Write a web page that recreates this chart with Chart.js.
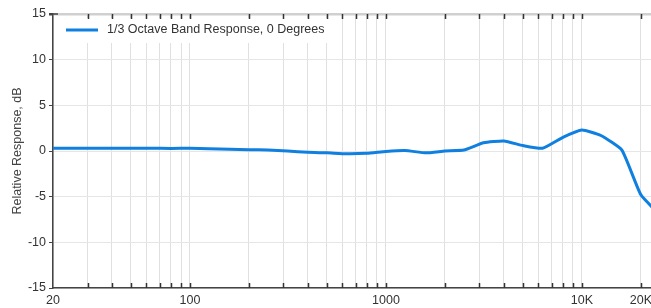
<!DOCTYPE html>
<html>
<head>
<meta charset="utf-8">
<script src="https://cdn.jsdelivr.net/npm/chart.js@4"></script>
<style>
  html, body { margin: 0; padding: 0; background: #fff; overflow: hidden; }
  #wrap { width: 657px; height: 308px; position: relative; }
</style>
</head>
<body>
<div id="wrap"><canvas id="responseChart"></canvas></div>
<script>
// 1/3 octave band centre frequencies (Hz)
const frequencies = [20, 25, 31.5, 40, 50, 63, 80, 100, 125, 160, 200, 250, 315, 400, 500, 630, 800,
  1000, 1250, 1600, 2000, 2500, 3150, 4000, 5000, 6300, 8000, 10000, 12500, 16000, 20000, 25000];
// relative response, dB
const responseDb = [0.3, 0.3, 0.3, 0.3, 0.3, 0.3, 0.28, 0.3, 0.25, 0.2, 0.15, 0.1, 0.0, -0.15, -0.2, -0.3, -0.25,
  -0.05, 0.05, -0.2, 0.0, 0.1, 0.9, 1.1, 0.6, 0.3, 1.5, 2.3, 1.7, 0.1, -4.8, -7.0];
const seriesLabel = "1/3 Octave Band Response, 0 Degrees";

const xGridTicks = [20, 30, 40, 50, 60, 70, 80, 90, 100, 200, 300, 400, 500, 600, 700, 800, 900,
  1000, 2000, 3000, 4000, 5000, 6000, 7000, 8000, 9000, 10000, 20000];
const xTickLabels = { 20: "20", 100: "100", 1000: "1000", 10000: "10K", 20000: "20K" };
const yTicks = [-15, -10, -5, 0, 5, 10, 15];

const lineColor = "#0f7fe0";
const fontFamily = "'Liberation Sans', Arial, sans-serif";

// legend box drawn inside the plot, on white, before the line
const insideLegend = {
  id: "insideLegend",
  beforeDatasetsDraw(chart) {
    const ctx = chart.ctx;
    const a = chart.chartArea;
    ctx.save();
    ctx.fillStyle = "#fff";
    ctx.fillRect(a.left + 4, a.top + 4, 278, 25);
    ctx.strokeStyle = lineColor;
    ctx.lineWidth = 3;
    ctx.beginPath();
    ctx.moveTo(a.left + 13, a.top + 16);
    ctx.lineTo(a.left + 45, a.top + 16);
    ctx.stroke();
    ctx.fillStyle = "#333";
    ctx.font = "12.5px " + fontFamily;
    ctx.textBaseline = "middle";
    ctx.fillText(seriesLabel, a.left + 54, a.top + 16);
    ctx.restore();
  }
};

// inward tick marks on top and bottom edges
const innerTicks = {
  id: "innerTicks",
  afterDraw(chart) {
    const ctx = chart.ctx;
    const a = chart.chartArea;
    const x = chart.scales.x;
    ctx.save();
    ctx.strokeStyle = "#333";
    ctx.lineWidth = 1.5;
    ctx.beginPath();
    xGridTicks.forEach(v => {
      const px = Math.round(x.getPixelForValue(v)) + 0.5;
      if (v === 20) return;
      ctx.moveTo(px, a.top);
      ctx.lineTo(px, a.top + 5);
      ctx.moveTo(px, a.bottom);
      ctx.lineTo(px, a.bottom - 5);
    });
    ctx.stroke();
    ctx.strokeStyle = "#444";
    ctx.beginPath();
    ctx.moveTo(a.left, a.top);
    ctx.lineTo(a.left + 5, a.top);
    ctx.stroke();
    ctx.restore();
  }
};

new Chart(document.getElementById("responseChart"), {
  type: "line",
  data: {
    datasets: [{
      label: seriesLabel,
      data: frequencies.map((f, i) => ({ x: f, y: responseDb[i] })),
      borderColor: lineColor,
      borderWidth: 3,
      pointRadius: 0,
      tension: 0.15,
      fill: false
    }]
  },
  options: {
    responsive: true,
    maintainAspectRatio: false,
    animation: false,
    layout: { padding: { top: 14, right: 0, left: 0, bottom: 0 } },
    plugins: {
      legend: { display: false },
      tooltip: { enabled: false }
    },
    scales: {
      x: {
        type: "logarithmic",
        min: 20,
        max: 22700,
        afterBuildTicks: s => { s.ticks = xGridTicks.map(v => ({ value: v })); },
        afterFit: s => { s.height = 20; },
        border: { display: true, color: "#444", width: 1.5 },
        grid: { color: "#e0e0e0", lineWidth: 1, drawTicks: false },
        ticks: {
          autoSkip: false,
          maxRotation: 0,
          padding: 5,
          color: "#333",
          font: { family: fontFamily, size: 12.5 },
          callback: v => xTickLabels[v] || ""
        }
      },
      y: {
        min: -15,
        max: 15,
        afterBuildTicks: s => { s.ticks = yTicks.map(v => ({ value: v })); },
        afterFit: s => { s.width = 53; },
        border: { display: true, color: "#444", width: 1.5 },
        grid: {
          color: c => c.tick && c.tick.value === 15 ? "#d0d0d0" : "#e6e6e6",
          lineWidth: c => c.tick && c.tick.value === 15 ? 2.5 : 1,
          tickColor: "#444",
          tickLength: 4
        },
        title: {
          display: true,
          text: "Relative Response, dB",
          color: "#444",
          font: { family: fontFamily, size: 12.5 },
          padding: { top: 10, bottom: 0 }
        },
        ticks: {
          color: "#333",
          padding: 3,
          font: { family: fontFamily, size: 12.5 }
        }
      }
    }
  },
  plugins: [insideLegend, innerTicks]
});
</script>
</body>
</html>
